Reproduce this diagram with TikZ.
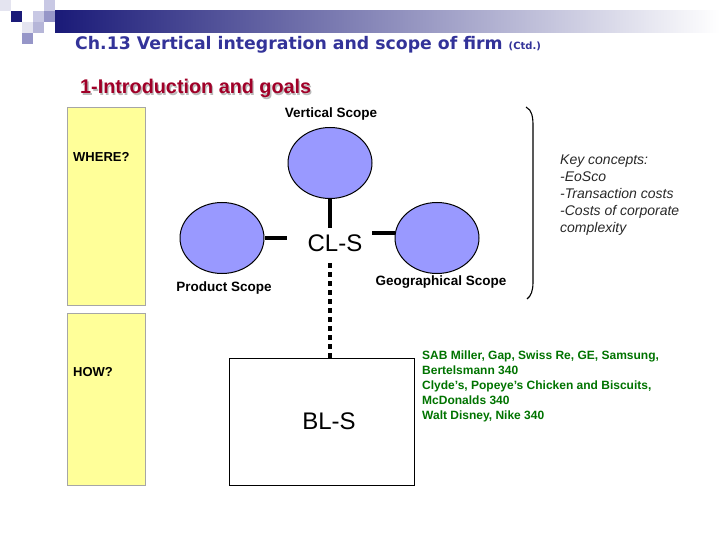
\documentclass[tikz,border=0pt]{standalone}
\usepackage{fontspec}
\setmainfont{Liberation Sans}
\newfontfamily\titlefont{DejaVu Sans}
\usetikzlibrary{shapes.geometric}
\definecolor{navy}{RGB}{51,51,153}
\definecolor{darknavy}{RGB}{26,26,120}
\definecolor{sqmed}{RGB}{150,150,200}
\definecolor{sqlight}{RGB}{200,200,228}
\definecolor{sqvlight}{RGB}{228,228,240}
\definecolor{introred}{RGB}{160,0,40}
\definecolor{boxyellow}{RGB}{255,255,153}
\definecolor{scopeblue}{RGB}{153,153,255}
\definecolor{firmgreen}{RGB}{0,115,0}
\definecolor{keygray}{RGB}{40,40,40}
\tikzset{
  yellowbox/.style={draw=gray!70,fill=boxyellow,line width=0.6pt},
  scope/.style={ellipse,draw=black,fill=scopeblue,line width=1pt,minimum width=84pt,minimum height=71pt,inner sep=0pt},
  label text/.style={font=\bfseries\fontsize{13.5}{15}\selectfont,inner sep=0pt},
  side text/.style={font=\bfseries\fontsize{13}{15}\selectfont,inner sep=0pt},
  big text/.style={font=\fontsize{24}{27}\selectfont,inner sep=0pt},
  link/.style={line width=4pt},
}
\begin{document}
\begin{tikzpicture}[x=1pt,y=-1pt]
\useasboundingbox (0,0) rectangle (720,540);
% header decoration
\shade[left color=darknavy,right color=white] (55,11) rectangle (720,33);
\fill[sqvlight] (0,0) rectangle (11,11);
\fill[sqlight] (44,0) rectangle (55,11);
\fill[darknavy] (11,11) rectangle (22,22);
\fill[sqlight] (33,11) rectangle (44,22);
\fill[sqmed] (44,11) rectangle (55,22);
\fill[sqvlight] (22,22) rectangle (33,33);
\fill[sqmed!70] (33,22) rectangle (44,33);
\fill[sqmed] (22,33) rectangle (33,44);
% title
\node[anchor=base west,inner sep=0pt,text=navy,font=\titlefont\bfseries\fontsize{17.3}{20}\selectfont] (title) at (75,50) {Ch.13 Vertical integration and scope of firm {\fontsize{10}{11}\selectfont (Ctd.)}};
% subtitle
\node[anchor=base west,inner sep=0pt,text=gray!55,font=\bfseries\fontsize{19.8}{22}\selectfont] (introshadow) at (81.3,95.3) {1-Introduction and goals};
\node[anchor=base west,inner sep=0pt,text=introred,font=\bfseries\fontsize{19.8}{22}\selectfont] (intro) at (80,94) {1-Introduction and goals};
% yellow boxes
\node[yellowbox,minimum width=78pt,minimum height=198pt,inner sep=0pt] (where) at (106,206) {};
\node[yellowbox,minimum width=78pt,minimum height=172pt,inner sep=0pt] (how) at (106,399) {};
\node[side text,anchor=west] (wheretext) at (73,157) {WHERE?};
\node[side text,anchor=west] (howtext) at (73,372) {HOW?};
% scopes
\node[label text] (vslabel) at (331,114) {Vertical Scope};
\node[scope] (vs) at (330,163) {};
\node[scope] (ps) at (222,238) {};
\node[scope] (gs) at (437,238) {};
\node[big text] (cls) at (335,243) {CL-S};
\node[label text] (pslabel) at (224,288) {Product Scope};
\node[label text] (gslabel) at (441,282) {Geographical Scope};
\coordinate (vsend) at (330,228);
\coordinate (psend) at (287,238);
\coordinate (gsend) at (372,233);
\draw[link] (vs.south) -- (vsend);
\draw[link] (ps.east) -- (psend);
\draw[link] (gsend) -- (gs.west |- gsend);
% BL-S box
\node[draw=black,line width=0.8pt,minimum width=185pt,minimum height=127pt,inner sep=0pt] (bls) at (321.5,422) {};
\node[big text] (blstext) at (329,421) {BL-S};
\coordinate (dotstart) at (330,263);
\draw[line width=4pt,dash pattern=on 5pt off 4pt] (dotstart) -- (dotstart |- bls.north);
% bracket
\draw[line width=1.1pt] (526,107) .. controls (532,110) and (533,117) .. (533,126) -- (533,282) .. controls (533,291) and (531,296) .. (527,299);
% key concepts
\node[anchor=north west,align=left,inner sep=0pt,text=keygray,font=\itshape\fontsize{14}{16.8}\selectfont] (key) at (560,155) {Key concepts:\\-EoSco\\-Transaction costs\\-Costs of corporate\\complexity};
% examples
\node[anchor=north west,align=left,inner sep=0pt,text=firmgreen,font=\bfseries\fontsize{12}{15}\selectfont] (examples) at (422,351) {SAB Miller, Gap, Swiss Re, GE, Samsung,\\Bertelsmann 340\\Clyde’s, Popeye’s Chicken and Biscuits,\\McDonalds 340\\Walt Disney, Nike 340};
\end{tikzpicture}
\end{document}
